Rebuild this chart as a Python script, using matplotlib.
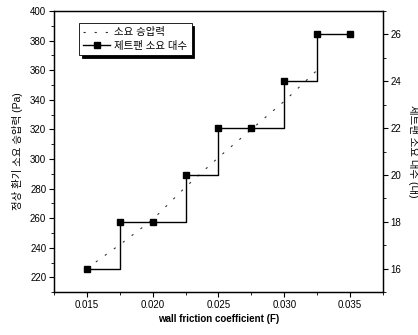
import matplotlib
matplotlib.use("Agg")
import matplotlib.pyplot as plt
from matplotlib.ticker import MultipleLocator

plt.rcParams['font.family'] = ['Liberation Sans', 'Noto Sans CJK KR', 'DejaVu Sans']

# wall friction coefficient
friction = [0.015, 0.0175, 0.020, 0.0225, 0.025, 0.0275, 0.030, 0.0325, 0.035]
# required pressure rise (Pa), dashed line
pressure_x = [0.015, 0.0175, 0.020, 0.0225, 0.025, 0.0275, 0.030, 0.0325]
pressure = [226, 242, 259, 281, 301, 320, 339, 360]
# number of jet fans needed
fans = [16, 18, 18, 20, 22, 22, 24, 26, 26]

fig = plt.figure(figsize=(4.18, 3.35), dpi=100)
ax = fig.add_axes([0.129, 0.128, 0.787, 0.839])
ax2 = ax.twinx()

l1, = ax.plot(pressure_x, pressure, color='#333333', lw=0.8,
              linestyle=(0, (2, 8)), label='소요 승압력')
l2, = ax2.plot(friction, fans, color='black', lw=1.0, drawstyle='steps-post',
               marker='s', markersize=4, label='제트팬 소요 대수')

ax.set_xlim(0.0125, 0.0375)
ax.set_ylim(210, 400)
ax2.set_ylim(15, 27)

ax.xaxis.set_minor_locator(MultipleLocator(0.0025))
ax.yaxis.set_major_locator(MultipleLocator(20))
ax.yaxis.set_minor_locator(MultipleLocator(10))
ax2.yaxis.set_major_locator(MultipleLocator(2))
ax2.yaxis.set_minor_locator(MultipleLocator(1))
ax.set_xticks([0.015, 0.020, 0.025, 0.030, 0.035])
ax.set_xticklabels(['0.015', '0.020', '0.025', '0.030', '0.035'])

for a in (ax, ax2):
    a.tick_params(which='major', direction='out', length=3.5, width=0.8, labelsize=7, pad=2)
    a.tick_params(which='minor', direction='out', length=2, width=0.6)
    for s in a.spines.values():
        s.set_linewidth(0.9)

ax.set_xlabel('wall friction coefficient (F)', fontsize=7, fontweight='bold', labelpad=3)
ax.set_ylabel('정상 환기 소요 승압력 (Pa)', fontsize=7.5, labelpad=5)
ax2.set_ylabel('제트팬 소요 대수 (대)', fontsize=7.5, rotation=270, labelpad=13)

leg = ax2.legend(handles=[l1, l2], loc='upper left', bbox_to_anchor=(0.06, 0.975),
                 fontsize=7.5, frameon=True, fancybox=False, handlelength=2.6,
                 borderpad=0.4, labelspacing=0.3, handletextpad=0.4,
                 shadow={'color': 'black', 'alpha': 1})
leg.get_frame().set_edgecolor('black')
leg.get_frame().set_linewidth(0.6)

fig.savefig('out.png', dpi=100)
